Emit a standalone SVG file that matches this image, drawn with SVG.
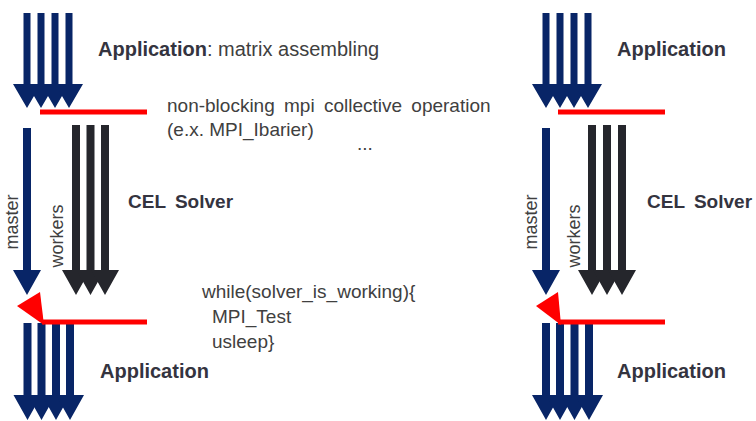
<svg xmlns="http://www.w3.org/2000/svg" width="756" height="421" viewBox="0 0 756 421">
<style>
.bg{fill:#ffffff}
.blue{fill:#082567}
.gray{fill:#25262c}
.red{stroke:#ff0000;stroke-width:5;fill:none}
.redf{fill:#ff0000}
.bold{font-family:"Liberation Sans",Arial,sans-serif;font-weight:bold;font-size:20px;fill:#34343f}
.reg{font-family:"Liberation Sans",Arial,sans-serif;font-size:19px;fill:#404040}
.code{font-family:"Liberation Sans",Arial,sans-serif;font-size:19px;fill:#404040}
.side{font-family:"Liberation Sans",Arial,sans-serif;font-size:18px;fill:#404040}
.cel{font-family:"Liberation Sans",Arial,sans-serif;font-weight:bold;font-size:19px;fill:#34343f;word-spacing:4px}
</style>
<defs>
<path id="aTop" d="M-3.5,0 H3.5 V71 H14 L0,95 L-14,71 H-3.5 Z"/>
<path id="aMaster" d="M-4,0 H4 V142 H14 L0,167 L-14,142 H-4 Z"/>
<path id="aWorker" d="M-4,0 H4 V145 H14 L0,170 L-14,145 H-4 Z"/>
<path id="aBottom" d="M-4,0 H4 V72 H14 L0,97 L-14,72 H-4 Z"/>
</defs>
<rect class="bg" x="0" y="0" width="756" height="421"/>

<!-- LEFT SIDE -->
<g id="left-app-top">
<use class="blue" href="#aTop" x="27" y="13"/>
<use class="blue" href="#aTop" x="41" y="13"/>
<use class="blue" href="#aTop" x="55" y="13"/>
<use class="blue" href="#aTop" x="69" y="13"/>
<text class="bold" x="98" y="56">Application<tspan style="font-weight:normal;fill:#404040">: matrix assembling</tspan></text>
</g>
<g id="left-master">
<use class="blue" href="#aMaster" x="27" y="128"/>
<text class="side" transform="translate(18,222) rotate(-90)" text-anchor="middle">master</text>
</g>
<g id="left-workers">
<use class="gray" href="#aWorker" x="76" y="125"/>
<use class="gray" href="#aWorker" x="90.5" y="125"/>
<use class="gray" href="#aWorker" x="105" y="125"/>
<text class="side" transform="translate(63,236) rotate(-90)" text-anchor="middle">workers</text>
<text class="cel" x="128" y="208">CEL Solver</text>
</g>
<g id="left-app-bottom">
<use class="blue" href="#aBottom" x="27.5" y="323"/>
<use class="blue" href="#aBottom" x="41.5" y="323"/>
<use class="blue" href="#aBottom" x="56" y="323"/>
<use class="blue" href="#aBottom" x="70" y="323"/>
<text class="bold" x="100" y="378">Application</text>
</g>
<g id="notes">
<text class="reg" x="167" y="112" style="word-spacing:4px">non-blocking mpi collective operation</text>
<text class="reg" x="167" y="136">(e.x. MPI_Ibarier)</text>
<text class="reg" x="357" y="150">...</text>
<text class="code" x="202" y="298">while(solver_is_working){</text>
<text class="code" x="212" y="323">MPI_Test</text>
<text class="code" x="212" y="348">usleep}</text>
</g>

<!-- RIGHT SIDE -->
<g id="right-app-top">
<use class="blue" href="#aTop" x="546" y="13"/>
<use class="blue" href="#aTop" x="560" y="13"/>
<use class="blue" href="#aTop" x="574" y="13"/>
<use class="blue" href="#aTop" x="588" y="13"/>
<text class="bold" x="617" y="56">Application</text>
</g>
<g id="right-master">
<use class="blue" href="#aMaster" x="546" y="128"/>
<text class="side" transform="translate(537,222) rotate(-90)" text-anchor="middle">master</text>
</g>
<g id="right-workers">
<use class="gray" href="#aWorker" x="592" y="125"/>
<use class="gray" href="#aWorker" x="607" y="125"/>
<use class="gray" href="#aWorker" x="622" y="125"/>
<text class="side" transform="translate(580,236) rotate(-90)" text-anchor="middle">workers</text>
<text class="cel" x="647" y="208">CEL Solver</text>
</g>
<g id="right-app-bottom">
<use class="blue" href="#aBottom" x="546" y="323"/>
<use class="blue" href="#aBottom" x="560" y="323"/>
<use class="blue" href="#aBottom" x="574.5" y="323"/>
<use class="blue" href="#aBottom" x="589" y="323"/>
<text class="bold" x="617" y="378">Application</text>
</g>

<!-- CONNECTORS -->
<g id="connectors">
<line class="red" x1="40" y1="112" x2="147" y2="112"/>
<line class="red" x1="42" y1="322" x2="147" y2="322"/>
<polygon class="redf" points="40,292 17,306 44,325"/>
<line class="red" x1="558" y1="112" x2="665" y2="112"/>
<line class="red" x1="558" y1="322" x2="665" y2="322"/>
<polygon class="redf" points="558,292 536,306 561,325"/>
</g>
</svg>
